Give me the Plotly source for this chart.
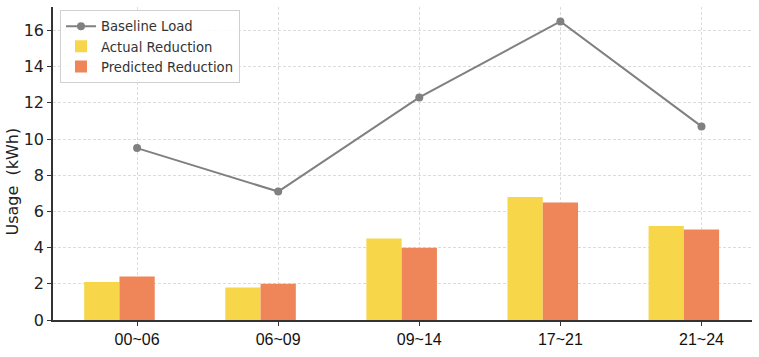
import plotly.graph_objects as go

categories = ["00~06", "06~09", "09~14", "17~21", "21~24"]
baseline_load = [9.5, 7.1, 12.3, 16.5, 10.7]
actual_reduction = [2.1, 1.8, 4.5, 6.8, 5.2]
predicted_reduction = [2.4, 2.0, 4.0, 6.5, 5.0]
y_ticks = [0, 2, 4, 6, 8, 10, 12, 14, 16]
y_title = "Usage\u00a0\u00a0(kWh)"

idx = list(range(len(categories)))

fig = go.Figure()
fig.add_trace(go.Scatter(
    x=idx, y=baseline_load, mode="lines+markers", name="Baseline Load",
    line=dict(color="#808080", width=2), marker=dict(color="#808080", size=8),
))
fig.add_trace(go.Bar(
    x=idx, y=actual_reduction, name="Actual Reduction", width=0.25, offset=-0.375,
    marker=dict(color="#F8D64A", line=dict(width=0)),
))
fig.add_trace(go.Bar(
    x=idx, y=predicted_reduction, name="Predicted Reduction", width=0.25, offset=-0.125,
    marker=dict(color="#EE865A", line=dict(width=0)),
))

fig.update_layout(
    width=759, height=357,
    margin=dict(l=53, r=7, t=7, b=37),
    plot_bgcolor="white", paper_bgcolor="white",
    barmode="overlay",
    font=dict(family="DejaVu Sans", color="#222222"),
    legend=dict(
        x=0.01, y=0.99, xanchor="left", yanchor="top",
        bgcolor="rgba(255,255,255,0.85)", bordercolor="#d0d0d0", borderwidth=1,
        font=dict(size=13.2, color="#333333"), traceorder="normal",
        itemwidth=30, tracegroupgap=0,
    ),
    showlegend=True,
    annotations=[dict(
        text=y_title, textangle=-90, showarrow=False,
        xref="paper", yref="paper", x=(12 - 53) / 699, y=(320 - 181.5) / 313,
        xanchor="center", yanchor="middle",
        font=dict(size=16, color="#222222", family="DejaVu Sans"),
    )],
)
fig.update_xaxes(
    range=[-0.596, 4.358], tickmode="array", tickvals=idx, ticktext=categories,
    showgrid=True, gridcolor="#dcdcdc", griddash="3px,2px", gridwidth=1,
    showline=True, linecolor="#333333", linewidth=1.5,
    ticks="outside", ticklen=4, tickcolor="#333333",
    tickfont=dict(family="Liberation Sans", size=16, color="#111111"),
    zeroline=False, automargin=False,
)
fig.update_yaxes(
    range=[0, 17.3], tickmode="array", tickvals=y_ticks,
    showgrid=True, gridcolor="#dcdcdc", griddash="3px,2px", gridwidth=1,
    showline=True, linecolor="#333333", linewidth=1.5,
    ticks="outside", ticklen=4, tickcolor="#333333",
    tickfont=dict(size=16, color="#222222"),
    zeroline=False, automargin=False,
)

fig.write_html("out.html", config={"displayModeBar": False},
               post_script="document.body.style.margin='0';")
